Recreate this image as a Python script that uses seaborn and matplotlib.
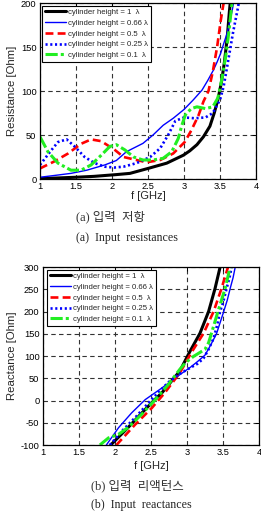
import matplotlib
matplotlib.use("Agg")
import matplotlib.pyplot as plt
import seaborn as sns
import pandas as pd

# ---------------- data ----------------
xticks = [1, 1.5, 2, 2.5, 3, 3.5, 4]
xtick_labels = ["1", "1.5", "2", "2.5", "3", "3.5", "4"]
r_yticks = [0, 50, 100, 150, 200]
x_yticks = [-100, -50, 0, 50, 100, 150, 200, 250, 300]

labels = ["cylinder height = 1  \u03bb", "cylinder height = 0.66 \u03bb",
          "cylinder height = 0.5  \u03bb", "cylinder height = 0.25 \u03bb",
          "cylinder height = 0.1  \u03bb"]

# Input resistance
r1_f = [1.0, 1.25, 1.5, 1.75, 2.06, 2.25, 2.5, 2.76, 2.99, 3.08, 3.18, 3.27, 3.36, 3.42, 3.47, 3.52, 3.56, 3.6, 3.63, 3.66]
r1_v = [0.5, 1.2, 2, 3, 5, 6.4, 12, 18, 27, 32, 39, 48, 60, 75, 90, 110, 132, 160, 190, 215]

r066_f = [1.0, 1.2, 1.43, 1.65, 1.9, 2.06, 2.2, 2.43, 2.57, 2.71, 2.85, 3.0, 3.13, 3.25, 3.33, 3.41, 3.46, 3.51, 3.56, 3.6, 3.64, 3.67, 3.7]
r066_v = [2, 4, 6.4, 10, 16, 21, 31, 40.5, 50, 61, 69, 79, 90, 101, 112, 124, 133, 143, 156, 166, 180, 192, 205]

r05_f = [1.0, 1.2, 1.39, 1.57, 1.71, 1.85, 2.04, 2.16, 2.34, 2.48, 2.67, 2.85, 3.01, 3.1, 3.2, 3.27, 3.34, 3.4, 3.46, 3.51, 3.56]
r05_v = [12, 20, 29, 40, 45, 43, 33, 25, 21.6, 19, 21.6, 29, 42, 55, 72, 88, 100, 122, 150, 180, 205]

r025_f = [1.0, 1.16, 1.25, 1.37, 1.48, 1.62, 1.76, 1.9, 2.03, 2.16, 2.34, 2.53, 2.67, 2.78, 2.88, 3.0, 3.15, 3.3, 3.4, 3.5, 3.55, 3.6, 3.68, 3.75, 3.78]
r025_v = [16, 33, 42, 45, 37, 25, 18, 14, 13, 14, 18, 25, 35, 50, 66, 70, 69, 70, 75, 90, 105, 128, 166, 195, 210]

r01_f = [1.0, 1.11, 1.25, 1.43, 1.57, 1.71, 1.85, 1.97, 2.06, 2.18, 2.3, 2.43, 2.57, 2.71, 2.83, 2.92, 2.97, 3.02, 3.1, 3.18, 3.3, 3.4, 3.47, 3.53, 3.58, 3.62, 3.66, 3.68]
r01_v = [48, 31, 18, 10, 10, 16, 27, 37, 39, 33, 25, 21.6, 21.6, 23.5, 31, 46, 61, 73, 80, 82, 80, 82, 92, 115, 140, 165, 195, 210]

# Input reactance
x1_f = [1.94, 2.18, 2.42, 2.54, 2.65, 2.9, 3.04, 3.18, 3.3, 3.39, 3.46, 3.48]
x1_v = [-100, -61, -20, 0, 17, 66, 110, 151, 200, 252, 300, 315]

x066_f = [1.88, 2.05, 2.23, 2.42, 2.65, 2.9, 3.05, 3.15, 3.25, 3.33, 3.41, 3.46, 3.51, 3.56, 3.6, 3.64, 3.67, 3.69]
x066_v = [-100, -61, -28, 2, 28, 58, 75, 88, 102, 125, 150, 175, 200, 226, 252, 276, 300, 315]

x05_f = [2.02, 2.28, 2.51, 2.69, 2.9, 3.07, 3.23, 3.37, 3.48, 3.57, 3.6]
x05_v = [-100, -54, -17, 17, 62, 110, 151, 200, 252, 300, 320]

x025_f = [1.93, 2.1, 2.3, 2.45, 2.6, 2.75, 2.9, 3.04, 3.15, 3.23, 3.3, 3.37, 3.42, 3.46, 3.51, 3.55, 3.59, 3.62, 3.64]
x025_v = [-100, -68, -35, -8, 18, 42, 60, 73, 83, 95, 115, 140, 170, 200, 226, 252, 276, 300, 320]

x01_f = [1.79, 1.91, 2.05, 2.18, 2.37, 2.56, 2.74, 2.9, 2.98, 3.09, 3.2, 3.25, 3.3, 3.34, 3.43, 3.53, 3.6, 3.63]
x01_v = [-100, -84, -76, -61, -31, 2, 36, 70, 85, 99, 110, 115, 130, 151, 200, 252, 300, 320]

# ---------------- style ----------------
sns.set_style("white")
plt.rcParams["font.family"] = ["Liberation Sans", "DejaVu Sans"]

styles = [
    dict(color="black", lw=2.2, ls="-"),
    dict(color="#0000ff", lw=1.0, ls="-"),
    dict(color="#ff0000", lw=1.9, ls=(0, (3, 1.6))),
    dict(color="#0000ff", lw=1.9, ls=(0, (0.8, 1.0))),
    dict(color="#22ee22", lw=2.2, ls=(0, (4.0, 1.0, 1.0, 1.0))),
]

W, H = 261, 511
fig = plt.figure(figsize=(W / 100, H / 100), dpi=100)

ax1 = fig.add_axes([40 / W, 1 - 179 / H, 216 / W, 176 / H])
ax2 = fig.add_axes([43 / W, 1 - 445 / H, 216 / W, 178 / H])


def draw(ax, series, yticks, ylim, ylabel, leg_anchor):
    for (f, v), lab, st in zip(series, labels, styles):
        df = pd.DataFrame({"f": f, "v": v})
        sns.lineplot(data=df, x="f", y="v", ax=ax, sort=False, label=lab,
                     color=st["color"], linewidth=st["lw"], linestyle=st["ls"],
                     estimator=None)
    ax.set_xlim(1, 4)
    ax.set_ylim(*ylim)
    ax.set_xticks(xticks)
    ax.set_xticklabels(xtick_labels)
    ax.set_yticks(yticks)
    ax.set_yticklabels([str(t) for t in yticks])
    ax.grid(True, color="#333333", linestyle=(0, (4, 3)), linewidth=0.8)
    ax.set_axisbelow(True)
    for s in ax.spines.values():
        s.set_color("black")
        s.set_linewidth(0.9)
        s.set_visible(True)
    ax.tick_params(direction="in", length=3, width=0.7, labelsize=6.7,
                   pad=2.5, top=True, right=True, colors="black")
    ax.set_xlabel("f [GHz]", fontsize=8)
    ax.set_ylabel(ylabel, fontsize=8.2)
    leg = ax.legend(loc="upper left", bbox_to_anchor=leg_anchor, fontsize=5.6,
                    frameon=True, fancybox=False, edgecolor="black",
                    framealpha=1, handlelength=2.7, handletextpad=0.3,
                    labelspacing=0.42, borderpad=0.35, borderaxespad=0)
    leg.get_frame().set_linewidth(0.8)
    return ax


draw(ax1, [(r1_f, r1_v), (r066_f, r066_v), (r05_f, r05_v), (r025_f, r025_v), (r01_f, r01_v)],
     r_yticks, (0, 200), "Resistance [Ohm]", (0.009, 0.983))
draw(ax2, [(x1_f, x1_v), (x066_f, x066_v), (x05_f, x05_v), (x025_f, x025_v), (x01_f, x01_v)],
     x_yticks, (-100, 300), "Reactance [Ohm]", (0.0185, 0.983))

ax1.xaxis.set_label_coords(0.5, -0.07)
ax1.yaxis.set_label_coords(-0.108, 0.5)
ax2.xaxis.set_label_coords(0.5, -0.092)
ax2.yaxis.set_label_coords(-0.122, 0.5)

cap_font = ["Liberation Serif", "Noto Sans CJK KR"]
fig.text(76 / W, 1 - 217 / H, "(a) 입력  저항", fontsize=9, family=cap_font,
         ha="left", va="center", color="#333333")
fig.text(76 / W, 1 - 238 / H, "(a)  Input  resistances", fontsize=8.6, family=cap_font,
         ha="left", va="center", color="#222222")
fig.text(91 / W, 1 - 486 / H, "(b) 입력  리액턴스", fontsize=9, family=cap_font,
         ha="left", va="center", color="#333333")
fig.text(91 / W, 1 - 505 / H, "(b)  Input  reactances", fontsize=8.6, family=cap_font,
         ha="left", va="center", color="#222222")

fig.savefig("out.png", dpi=100)
